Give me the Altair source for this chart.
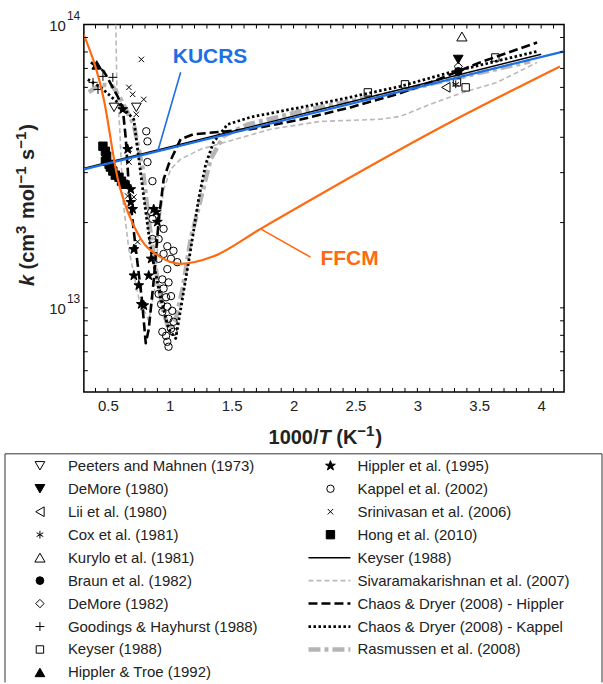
import altair as alt
import pandas as pd

# ---------------------------------------------------------------- axis values
x_labels = [0.5, 1, 1.5, 2, 2.5, 3, 3.5, 4]
x_ticks = [0.4, 0.5, 0.6, 0.7, 0.8, 0.9, 1.0, 1.1, 1.2, 1.3, 1.4, 1.5, 1.6, 1.7, 1.8, 1.9,
           2.0, 2.1, 2.2, 2.3, 2.4, 2.5, 2.6, 2.7, 2.8, 2.9, 3.0, 3.1, 3.2, 3.3, 3.4, 3.5,
           3.6, 3.7, 3.8, 3.9, 4.0, 4.1]
y_labels = [1e13, 1e14]
y_label_base = ["10", "10"]
y_label_exp = ["13", "14"]
y_ticks = [6e12, 7e12, 8e12, 9e12, 1e13, 2e13, 3e13, 4e13, 5e13, 6e13, 7e13, 8e13, 9e13]

# ---------------------------------------------------------------- model curves (1000/T, k)
kucrs_x = [0.306, 4.185]
kucrs_k = [3.08e13, 8.04e13]

ffcm_x = [0.306, 0.467, 0.580, 0.661, 0.766, 0.927, 1.088, 1.354, 1.733, 3.266, 4.152]
ffcm_k = [9.2e13, 5.45e13, 2.85e13, 2.18e13, 1.75e13, 1.51e13, 1.43e13, 1.52e13, 1.90e13, 4.52e13, 7.11e13]

keyser_x = [0.31, 4.0]
keyser_k = [3.11e13, 7.85e13]

sivaram_x = [0.564, 0.572, 0.596, 0.621, 0.669, 0.750, 0.830, 0.879, 0.911, 0.951, 1.008, 1.088,
             1.250, 1.814, 2.217, 2.701, 2.862, 3.104, 3.370, 3.645, 3.967]
sivaram_k = [1.0e14, 6.25e13, 4.27e13, 2.42e13, 1.61e13, 1.08e13, 9.0e12, 1.17e13, 1.90e13, 2.62e13,
             3.09e13, 3.35e13, 3.63e13, 4.27e13, 4.55e13, 4.63e13, 4.74e13, 5.23e13, 5.76e13, 6.25e13, 7.35e13]

chaosH_x = [0.362, 0.467, 0.580, 0.621, 0.645, 0.669, 0.725, 0.774, 0.806, 0.830, 0.871, 0.911,
            0.951, 0.991, 1.088, 1.193, 1.653, 2.056, 2.459, 2.838, 3.128, 3.507, 3.967]
chaosH_k = [7.35e13, 6.84e13, 5.57e13, 5.02e13, 3.94e13, 2.69e13, 1.62e13, 1.08e13, 7.5e12, 8.4e12,
            1.26e13, 2.05e13, 2.85e13, 3.21e13, 3.94e13, 4.10e13, 4.27e13, 4.62e13, 5.10e13, 5.68e13,
            6.30e13, 7.35e13, 8.64e13]

chaosK_x = [0.338, 0.443, 0.580, 0.709, 0.782, 0.846, 0.927, 0.991, 1.048, 1.088, 1.169, 1.233,
            1.290, 1.354, 1.467, 1.653, 2.056, 2.459, 2.862, 3.266, 3.967]
chaosK_k = [6.4e13, 6.0e13, 5.3e13, 4.63e13, 2.62e13, 1.61e13, 1.08e13, 8.4e12, 7.8e12, 9.9e12,
            1.61e13, 2.42e13, 3.21e13, 3.85e13, 4.44e13, 4.71e13, 5.10e13, 5.54e13, 6.05e13, 6.78e13, 8.04e13]

rasm_x = [0.346, 0.443, 0.540, 0.604, 0.709, 0.782, 0.830, 0.887, 0.943, 0.991, 1.048, 1.104,
          1.169, 1.250, 1.330, 1.435, 1.628, 2.056, 2.459, 2.862, 3.266, 3.911]
rasm_k = [5.77e13, 6.15e13, 6.05e13, 5.45e13, 4.44e13, 3.08e13, 2.05e13, 1.37e13, 9.9e12, 8.4e12,
          9.1e12, 1.17e13, 1.75e13, 2.42e13, 3.35e13, 4.04e13, 4.44e13, 4.94e13, 5.36e13, 5.81e13,
          6.40e13, 7.41e13]

# ---------------------------------------------------------------- measurements (1000/T, k)
peeters_x = [0.55, 0.73]
peeters_k = [5.10e13, 5.10e13]
demore80_x = [3.33]
demore80_k = [7.53e13]
lii_x = [3.23]
lii_k = [6.00e13]
cox_x = [3.31]
cox_k = [6.15e13]
kurylo_x = [3.36]
kurylo_k = [9.07e13]
braun_x = [3.33]
braun_k = [6.83e13]
demore82_x = [3.33]
demore82_k = [7.11e13]
goodings_x = [0.38, 0.46, 0.54, 0.42]
goodings_k = [6.25e13, 6.56e13, 6.51e13, 5.90e13]
keyserp_x = [2.60, 2.90, 3.32, 3.39, 3.63]
keyserp_k = [5.76e13, 6.15e13, 6.25e13, 6.00e13, 7.65e13]
hipptroe_x = [0.41]
hipptroe_k = [7.2e13]
hipp95_x = [0.62, 0.66, 0.685, 0.685, 0.70, 0.71, 0.71, 0.75, 0.77, 0.79, 0.83, 0.85, 0.87, 0.89, 0.90]
hipp95_k = [5.02e13, 3.63e13, 2.62e13, 2.36e13, 2.23e13, 1.61e13, 1.30e13, 1.20e13, 1.03e13, 1.02e13,
            1.30e13, 1.49e13, 2.23e13, 2.18e13, 2.01e13]
kappel_x = [0.81, 0.82, 0.82, 0.86, 0.85, 0.86, 0.95, 0.86, 0.91, 0.98, 1.03, 0.95, 1.01, 0.91, 1.06,
            0.98, 0.94, 0.99, 0.95, 0.91, 0.97, 1.01, 0.93, 0.98, 1.02, 0.94, 0.99, 1.03, 1.01, 0.94,
            1.03, 0.97, 0.98, 0.99]
kappel_k = [4.20e13, 3.87e13, 3.27e13, 2.80e13, 2.18e13, 2.06e13, 1.90e13, 1.75e13, 1.75e13, 1.65e13,
            1.59e13, 1.55e13, 1.49e13, 1.49e13, 1.45e13, 1.37e13, 1.26e13, 1.23e13, 1.17e13, 1.12e13,
            1.09e13, 1.10e13, 1.03e13, 1.01e13, 9.76e12, 9.68e12, 9.15e12, 8.93e12, 8.44e12, 8.23e12,
            8.23e12, 7.97e12, 7.59e12, 7.29e12]
srini_x = [0.77, 0.67, 0.70, 0.79, 0.73, 0.67, 0.67, 0.66, 0.71, 0.74]
srini_k = [7.53e13, 6.00e13, 5.67e13, 5.44e13, 4.82e13, 3.63e13, 3.27e13, 2.48e13, 2.46e13, 1.71e13]
hong_x = [0.46, 0.48, 0.49, 0.48, 0.51, 0.52, 0.54, 0.56, 0.59, 0.61, 0.63]
hong_k = [3.72e13, 3.57e13, 3.43e13, 3.29e13, 3.21e13, 3.14e13, 3.04e13, 2.94e13, 2.89e13, 2.80e13, 2.73e13]

# ---------------------------------------------------------------- annotations
kucrs_label = (1.024, 7.66e13)
kucrs_leader = (0.903, 3.57e13, 1.088, 6.78e13)
ffcm_label = (2.217, 1.49e13)
ffcm_leader = (1.733, 1.90e13, 2.137, 1.51e13)

# ---------------------------------------------------------------- legend text
legend_left = ["Peeters and Mahnen (1973)", "DeMore (1980)", "Lii et al. (1980)", "Cox et al. (1981)",
               "Kurylo et al. (1981)", "Braun et al. (1982)", "DeMore (1982)",
               "Goodings & Hayhurst (1988)", "Keyser (1988)", "Hippler & Troe (1992)"]
legend_right = ["Hippler et al. (1995)", "Kappel et al. (2002)", "Srinivasan et al. (2006)",
                "Hong et al. (2010)", "Keyser (1988)", "Sivaramakarishnan et al. (2007)",
                "Chaos & Dryer (2008) - Hippler", "Chaos & Dryer (2008) - Kappel",
                "Rasmussen et al. (2008)"]

# axis titles, split into pieces: (text, size, italic, superscript, space before)
x_title_pieces = [("1000/", 20, False, False, False), ("T", 20, True, False, False),
                  ("(K", 20, False, False, True), ("−1", 15, False, True, False),
                  (")", 20, False, False, False)]
y_title_pieces = [("k", 20, True, False, False), ("(cm", 20, False, False, True),
                  ("3", 15, False, True, False), ("mol", 20, False, False, True),
                  ("−1", 15, False, True, False), ("s", 20, False, False, True),
                  ("−1", 15, False, True, False), (")", 20, False, False, False)]

# ================================================================ styling
FONT = "Liberation Sans"
BLUE = "#1c6fe6"
ORANGE = "#ff6a10"
TXT = "#222222"
W, H = 481, 368

STAR = ("M0,-1L0.235,-0.324L0.951,-0.309L0.38,0.124L0.588,0.809L0,0.4L-0.588,0.809"
        "L-0.38,0.124L-0.951,-0.309L-0.235,-0.324Z")
PLUS = "M-1,0L1,0M0,-1L0,1"
XMARK = "M-1,-1L1,1M1,-1L-1,1"
AST = "M0,-1L0,1M-0.87,-0.5L0.87,0.5M-0.87,0.5L0.87,-0.5"

marker_series = [
    (legend_left[0], peeters_x, peeters_k, "triangle-down", "transparent", 95),
    (legend_left[1], demore80_x, demore80_k, "triangle-down", "black", 95),
    (legend_left[2], lii_x, lii_k, "triangle-left", "transparent", 95),
    (legend_left[3], cox_x, cox_k, AST, "transparent", 60),
    (legend_left[4], kurylo_x, kurylo_k, "triangle-up", "transparent", 105),
    (legend_left[5], braun_x, braun_k, "circle", "black", 60),
    (legend_left[6], demore82_x, demore82_k, "diamond", "transparent", 70),
    (legend_left[7], goodings_x, goodings_k, PLUS, "transparent", 80),
    (legend_left[8], keyserp_x, keyserp_k, "square", "transparent", 55),
    (legend_left[9], hipptroe_x, hipptroe_k, "triangle-up", "black", 95),
    (legend_right[0], hipp95_x, hipp95_k, STAR, "black", 105),
    (legend_right[1], kappel_x, kappel_k, "circle", "transparent", 55),
    (legend_right[2], srini_x, srini_k, XMARK, "transparent", 30),
    (legend_right[3], hong_x, hong_k, "square", "black", 70),
]
m_names = [m[0] for m in marker_series]
shape_scale = alt.Scale(domain=m_names, range=[m[3] for m in marker_series])
fill_scale = alt.Scale(domain=m_names, range=[m[4] for m in marker_series])
size_scale = alt.Scale(type="ordinal", domain=m_names, range=[m[5] for m in marker_series])

xsc = alt.Scale(domain=[0.306, 4.185], nice=False, zero=False)
ysc = alt.Scale(type="log", domain=[5.05e12, 1e14], nice=False)

x_axis = alt.Axis(values=x_labels, format="~g", ticks=False, domain=False, grid=False,
                  labelFont=FONT, labelFontSize=15, labelColor=TXT, labelPadding=7, labelFlush=False,
                  title="")


def X():
    return alt.X("x:Q", scale=xsc, axis=x_axis)


def Y():
    return alt.Y("k:Q", scale=ysc, axis=None)


def curve(xs, ks, color, width, dash=None, interp="linear"):
    kw = dict(color=color, strokeWidth=width, clip=True, strokeCap="butt", strokeJoin="round",
              interpolate=interp)
    if dash is not None:
        kw["strokeDash"] = dash
    return alt.Chart(pd.DataFrame({"x": xs, "k": ks})).mark_line(**kw).encode(x=X(), y=Y())


line_styles = [
    (legend_right[4], keyser_x, keyser_k, "black", 1.5, None),
    (legend_right[5], sivaram_x, sivaram_k, "#b9b9b9", 1.6, [5, 3]),
    (legend_right[6], chaosH_x, chaosH_k, "black", 2.6, [9, 4]),
    (legend_right[7], chaosK_x, chaosK_k, "black", 2.8, [2.5, 2.5]),
    (legend_right[8], rasm_x, rasm_k, "#b5b5b5", 4.5, [12, 4, 4, 4]),
]

# ---------------------------------------------------------------- plot layers
xt = pd.DataFrame({"x": x_ticks})
yt = pd.DataFrame({"k": y_ticks})
tick_kw = dict(color="black", strokeWidth=1)
ticks = [
    alt.Chart(xt).mark_rule(**tick_kw).encode(x=X(), y=alt.value(H), y2=alt.value(H - 4)),
    alt.Chart(xt).mark_rule(**tick_kw).encode(x=X(), y=alt.value(0), y2=alt.value(4)),
    alt.Chart(yt).mark_rule(**tick_kw).encode(y=Y(), x=alt.value(0), x2=alt.value(4)),
    alt.Chart(yt).mark_rule(**tick_kw).encode(y=Y(), x=alt.value(W), x2=alt.value(W - 4)),
]

# y-axis labels 10^13, 10^14 drawn as base + superscript
ylab = pd.DataFrame({"k": y_labels, "b": y_label_base, "e": y_label_exp})
ylabels = [
    alt.Chart(ylab).mark_text(align="right", baseline="middle", font=FONT, fontSize=15, color=TXT,
                              dy=1).encode(y=Y(), x=alt.value(-18), text="b:N"),
    alt.Chart(ylab).mark_text(align="left", baseline="middle", font=FONT, fontSize=12, color=TXT,
                              dy=-9).encode(y=Y(), x=alt.value(-17), text="e:N"),
]


def title_pieces(pieces, start, base, rotated):
    """Lay the title pieces one after another using Arial-Bold advance widths."""
    adv = {"0": .556, "1": .556, "3": .556, "/": .278, "T": .611, "(": .333,
           "K": .722, "−": .584, ")": .333, "k": .556, "c": .556, "m": .889, "o": .611,
           "l": .278, "s": .556}
    layers = []
    pos = start
    for text, size, italic, sup, space in pieces:
        step = 0.278 * 20 if space else 0
        pos = pos - step if rotated else pos + step
        b = base - (8 if sup else 0)
        kw = dict(align="left", baseline="alphabetic", font=FONT, fontSize=size,
                  fontWeight="bold", color=TXT)
        if italic:
            kw["fontStyle"] = "italic"
        df = pd.DataFrame({"t": [text]})
        wdt = sum(adv[c] for c in text) * size + (1 if sup else 0)
        if rotated:
            kw["angle"] = 270
            enc = dict(x=alt.value(b), y=alt.value(pos), text="t:N")
            pos -= wdt
        else:
            enc = dict(x=alt.value(pos), y=alt.value(b), text="t:N")
            pos += wdt
        layers.append(alt.Chart(df).mark_text(**kw).encode(**enc))
    return layers


titles = title_pieces(x_title_pieces, 185, 420, False) + title_pieces(y_title_pieces, 262, -50, True)

order = [1, 4, 0, 2, 3]  # gray first, then black
curves = [curve(line_styles[i][1], line_styles[i][2], line_styles[i][3], line_styles[i][4],
                line_styles[i][5]) for i in order]

pts = pd.concat([pd.DataFrame({"x": m[1], "k": m[2], "series": m[0]}) for m in marker_series],
                ignore_index=True)
points = alt.Chart(pts).mark_point(filled=True, stroke="black", strokeWidth=1, opacity=1,
                                   clip=True).encode(
    x=X(), y=Y(),
    shape=alt.Shape("series:N", scale=shape_scale, legend=None),
    fill=alt.Fill("series:N", scale=fill_scale, legend=None),
    size=alt.Size("series:N", scale=size_scale, legend=None),
)

models = [curve(kucrs_x, kucrs_k, BLUE, 2.2), curve(ffcm_x, ffcm_k, ORANGE, 2.2, interp="monotone")]


def leader(seg, color):
    df = pd.DataFrame({"x": [seg[0]], "k": [seg[1]], "x2": [seg[2]], "k2": [seg[3]]})
    return alt.Chart(df).mark_rule(color=color, strokeWidth=1.6).encode(
        x=X(), y=Y(), x2="x2:Q", y2="k2:Q")


def label(pos, text, color):
    df = pd.DataFrame({"x": [pos[0]], "k": [pos[1]], "t": [text]})
    return alt.Chart(df).mark_text(align="left", baseline="middle", font=FONT, fontSize=21,
                                   fontWeight="bold", color=color).encode(x=X(), y=Y(), text="t:N")


annots = [leader(kucrs_leader, BLUE), leader(ffcm_leader, ORANGE),
          label(kucrs_label, "KUCRS", BLUE), label(ffcm_label, "FFCM", ORANGE)]

plot = alt.layer(*curves, points, *models, *annots, *ticks, *ylabels, *titles)

# ---------------------------------------------------------------- legend
leg_y = alt.Scale(domain=[0, 9], range=[442, 649])
left_df = pd.DataFrame({"series": legend_left, "row": list(range(len(legend_left)))})
right_df = pd.DataFrame({"series": legend_right, "row": list(range(len(legend_right)))})
LY = alt.Y("row:Q", scale=leg_y, axis=None)

text_kw = dict(align="left", baseline="middle", font=FONT, fontSize=15, color=TXT)
leg_layers = [
    alt.Chart(left_df).mark_text(**text_kw).encode(x=alt.value(-16), y=LY, text="series:N"),
    alt.Chart(right_df).mark_text(**text_kw).encode(x=alt.value(274), y=LY, text="series:N"),
]
mk_enc = dict(
    y=LY,
    shape=alt.Shape("series:N", scale=shape_scale, legend=None),
    fill=alt.Fill("series:N", scale=fill_scale, legend=None),
    size=alt.Size("series:N", scale=size_scale, legend=None),
)
mk_kw = dict(filled=True, stroke="black", strokeWidth=1, opacity=1)
leg_layers.append(alt.Chart(left_df).mark_point(**mk_kw).encode(x=alt.value(-44), **mk_enc))
leg_layers.append(alt.Chart(right_df.iloc[:4]).mark_point(**mk_kw).encode(x=alt.value(247), **mk_enc))
for i, st in enumerate(line_styles):
    df = right_df.iloc[[4 + i]]
    kw = dict(color=st[3], strokeWidth=st[4], strokeCap="butt")
    if st[5] is not None:
        kw["strokeDash"] = st[5]
    leg_layers.append(alt.Chart(df).mark_rule(**kw).encode(
        x=alt.value(225), x2=alt.value(267), y=LY))

box_df = pd.DataFrame({"b": [0]})
box_kw = dict(color="#333333", strokeWidth=1)
leg_layers += [
    alt.Chart(box_df).mark_rule(**box_kw).encode(x=alt.value(-79), y=alt.value(430), y2=alt.value(659)),
    alt.Chart(box_df).mark_rule(**box_kw).encode(x=alt.value(-79), x2=alt.value(519), y=alt.value(430)),
    alt.Chart(box_df).mark_rule(**box_kw).encode(x=alt.value(519), y=alt.value(430), y2=alt.value(659)),
]
legend = alt.layer(*leg_layers)

chart = alt.layer(plot, legend).resolve_scale(y="independent").properties(
    width=W, height=H, padding={"left": 4, "top": 9, "right": 0, "bottom": 0},
    background="white",
).configure_view(stroke="black", strokeWidth=1.5)

chart.save("out.html", embed_options={"renderer": "svg", "actions": False})
